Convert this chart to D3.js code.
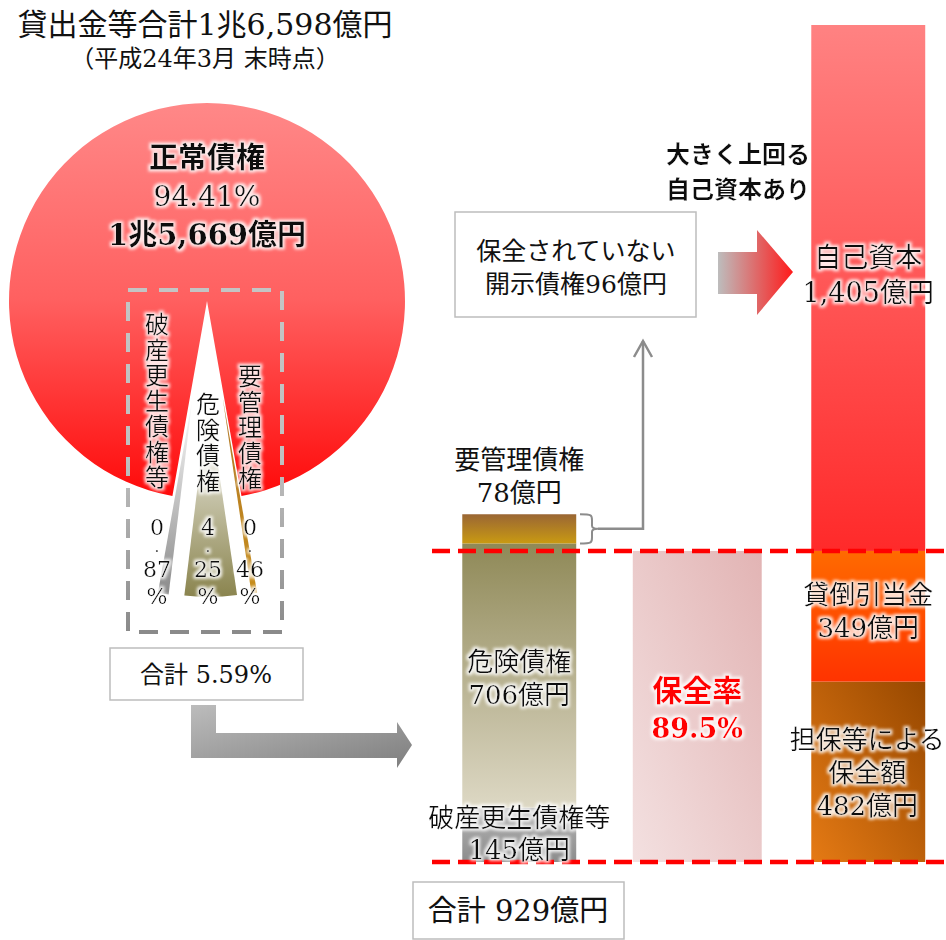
<!DOCTYPE html>
<html><head><meta charset="utf-8">
<script src="https://cdn.jsdelivr.net/npm/d3@7"></script>
<style>
body{margin:0;background:#fff;}
svg{display:block;font-family:"DejaVu Serif","Noto Sans CJK JP",serif;}
</style></head><body>
<svg width="946" height="940"></svg>
<script>
// 円グラフ (構成比 %)
const pieNames = ["正常債権", "要管理債権", "危険債権", "破産更生債権等"];
const piePct = [94.41, 0.46, 4.25, 0.87];
const normalAmount = "1兆5,669億円";
const smallTotalPct = "5.59%";

// 開示債権 (億円) 下から
const discNames = ["破産更生債権等", "危険債権", "要管理債権"];
const discValues = [145, 706, 78];

// 保全 (億円) 下から
const coverLabels = [["担保等による", "保全額"], ["貸倒引当金"], ["自己資本"]];
const coverValues = [482, 349, 1405];
const coverRate = 89.5;
const unprotected = 96;

const titleText = ["貸出金等合計1兆6,598億円", "（平成24年3月 末時点）"];

const fmt = d3.format(",");
const svg = d3.select("svg");
const defs = svg.append("defs");

// グラデーション
function grad(id, stops, x1, y1, x2, y2) {
  const g = defs.append("linearGradient").attr("id", id)
    .attr("x1", x1).attr("y1", y1).attr("x2", x2).attr("y2", y2);
  stops.forEach((c, i) => g.append("stop").attr("offset", i / (stops.length - 1)).attr("stop-color", c));
}
grad("gPie", ["#ff8888", "#ff6060", "#ff0a0a"], 0, 0, 0, 1);
grad("gYou", ["#b0782a", "#c78d1a"], 0, 0, 0, 1);
grad("gKiken", ["#ffffff", "#8a844e"], 0, 0, 0, 1);
grad("gHasan", ["#ffffff", "#8a8a8a"], 0, 0, 0, 1);
grad("gBarYou", ["#9a6634", "#c99a12"], 0, 0, 0, 1);
grad("gBarKiken", ["#8f8957", "#b7b190", "#ddd8c4"], 0, 0, 0, 1);
grad("gBarHasan", ["#b4b4b4", "#8c8c8c"], 0, 0, 0, 1);
grad("gRate", ["#f3e0e0", "#e2b4b4"], 0, 1, 1, 0);
grad("gOwn", ["#ff8282", "#ff2a2a"], 0, 0, 0, 1);
grad("gAllow", ["#ff6a00", "#ff3300"], 0, 0, 0, 1);
grad("gColl", ["#e57a14", "#974800"], 0, 1, 1, 0);
grad("gDash", ["#c4c4c4", "#c0c0c0", "#8a8a8a"], 0, 0, 0, 1);
grad("gGrayArrow", ["#bcbcbc", "#7e7e7e"], 0, 0, 1, 1);
grad("gRedArrow", ["#bdbdbd", "#ff1a1a"], 0, 0, 1, 0);

const f = defs.append("filter").attr("id", "glow")
  .attr("x", "-20%").attr("y", "-30%").attr("width", "140%").attr("height", "160%");
f.append("feMorphology").attr("in", "SourceAlpha").attr("operator", "dilate").attr("radius", 1.5).attr("result", "d");
f.append("feGaussianBlur").attr("in", "d").attr("stdDeviation", 1.8).attr("result", "b");
f.append("feFlood").attr("flood-color", "#fff").attr("flood-opacity", 0.85);
f.append("feComposite").attr("in2", "b").attr("operator", "in").attr("result", "g");
const fm = f.append("feMerge");
fm.append("feMergeNode").attr("in", "g");
fm.append("feMergeNode").attr("in", "SourceGraphic");

// テキスト
function label(g, x, y, lines, size, opt = {}) {
  const t = g.append("text").attr("x", x).attr("y", y)
    .attr("text-anchor", "middle").attr("dominant-baseline", "central")
    .attr("font-size", size).attr("fill", opt.fill || "#111")
    .attr("font-weight", opt.bold ? "bold" : "normal");
  if (opt.family) t.attr("font-family", opt.family);
  const lh = opt.lh || size * 1.2;
  lines.forEach((l, i) => {
    const s = t.append("tspan").attr("x", x).attr("y", Array.isArray(lh) ? lh[i] : y + i * lh).text(l);
    if (opt.sizes && opt.sizes[i]) s.attr("font-size", opt.sizes[i]).attr("font-weight", "bold");
  });
  return t;
}

// タイトル
label(svg, 205, 24, [titleText[0]], 30);
label(svg, 205, 59, [titleText[1]], 24);

// 円グラフ
const cx = 207, cy = 301, R = 198, explode = 98;
const pie = d3.pie().sort(null).value(d => d)
  .startAngle(-Math.PI * piePct[0] / 100)
  .endAngle(-Math.PI * piePct[0] / 100 + 2 * Math.PI);
const arcs = pie(piePct);
const arc = d3.arc().innerRadius(0).outerRadius(R);
const sliceFill = ["url(#gPie)", "url(#gYou)", "url(#gKiken)", "url(#gHasan)"];
const pg = svg.append("g").attr("transform", `translate(${cx},${cy})`);
pg.selectAll("path").data(arcs).enter().append("path")
  .attr("d", arc)
  .attr("fill", (d, i) => sliceFill[i])
  .attr("transform", (d, i) => {
    if (i === 0) return null;
    const a = (d.startAngle + d.endAngle) / 2;
    return `translate(${Math.sin(a) * explode},${-Math.cos(a) * explode})`;
  });

// 正常債権ラベル
const pl = svg.append("g").attr("filter", "url(#glow)");
label(pl, cx, 158, [pieNames[0]], 29, { bold: true });
label(pl, cx, 196, [piePct[0].toFixed(2) + "%"], 28);
label(pl, cx, 235, [normalAmount], 29, { bold: true });

// 破線枠
svg.append("rect").attr("x", cx - 79).attr("y", cy - 11).attr("width", 154).attr("height", 342)
  .attr("fill", "none").attr("stroke", "url(#gDash)").attr("stroke-width", 4)
  .attr("stroke-dasharray", "19,12");

// 小さな扇形のラベル (縦書き)
const colX = { "破産更生債権等": cx - 50, "危険債権": cx + 1, "要管理債権": cx + 43 };
const colTop = { "破産更生債権等": 325, "危険債権": 405, "要管理債権": 377 };
const vg = svg.append("g").attr("filter", "url(#glow)");
pieNames.slice(1).forEach((name, k) => {
  const i = k + 1;
  const chars = name.split("");
  label(vg, colX[name], colTop[name], chars, 24, { lh: chars.map((c, j) => colTop[name] + j * 25.5) });
  const p = piePct[i].toFixed(2).split(".");
  label(vg, colX[name], 527, [p[0], ".", p[1], "%"], 22,
    { lh: [527, 548, 569, 596], sizes: [0, 11, 0, 0] });
});

// 合計 5.59%
svg.append("rect").attr("x", 110).attr("y", 648).attr("width", 193).attr("height", 52)
  .attr("fill", "#fff").attr("stroke", "#bdbdbd").attr("stroke-width", 1.5);
label(svg, 206, 675, ["合計 " + smallTotalPct], 24);

// 灰色の矢印
svg.append("path")
  .attr("d", "M191,705 L216,705 L216,733 L397,733 L397,722 L412,745 L397,768 L397,758 L191,758 Z")
  .attr("fill", "url(#gGrayArrow)");

// 棒グラフ
const y = d3.scaleLinear().domain([0, d3.sum(coverValues)]).range([862, 25]);
const x = d3.scaleBand().domain(["disc", "rate", "cover"]).range([432, 955.5])
  .paddingInner(0.347).paddingOuter(0.1735);

function stack(vals) {
  let acc = 0;
  return vals.map(v => { const s = acc; acc += v; return { v, s, e: acc }; });
}

const discStack = stack(discValues);
const discFill = ["url(#gBarHasan)", "url(#gBarKiken)", "url(#gBarYou)"];
svg.selectAll(".disc").data(discStack).enter().append("rect").attr("class", "disc")
  .attr("x", x("disc")).attr("width", x.bandwidth())
  .attr("y", d => y(d.e)).attr("height", d => y(d.s) - y(d.e))
  .attr("fill", (d, i) => discFill[i]);

const coverStack = stack(coverValues);
const coverFill = ["url(#gColl)", "url(#gAllow)", "url(#gOwn)"];
svg.selectAll(".cover").data(coverStack).enter().append("rect").attr("class", "cover")
  .attr("x", x("cover")).attr("width", x.bandwidth())
  .attr("y", d => y(d.e)).attr("height", d => y(d.s) - y(d.e))
  .attr("fill", (d, i) => coverFill[i]);

const protectedSum = coverValues[0] + coverValues[1];
svg.append("rect").attr("x", x("rate") - 4).attr("width", x.bandwidth() + 15)
  .attr("y", y(protectedSum)).attr("height", y(0) - y(protectedSum))
  .attr("fill", "url(#gRate)");

// 赤い破線
[protectedSum, 0].forEach(v => {
  svg.append("line").attr("x1", 432).attr("x2", 946).attr("y1", y(v)).attr("y2", y(v))
    .attr("stroke", "#ff0000").attr("stroke-width", 4.5).attr("stroke-dasharray", "18,8");
});

// 開示債権ラベル
const dcx = x("disc") + x.bandwidth() / 2;
const discTotal = d3.sum(discValues);
label(svg, dcx, 460, [discNames[2], discValues[2] + "億円"], 26, { lh: 33 });
const dl = svg.append("g").attr("filter", "url(#glow)");
label(dl, dcx, 662, [discNames[1], discValues[1] + "億円"], 26, { lh: 33 });
label(dl, dcx, 818, [discNames[0], discValues[0] + "億円"], 26, { lh: 32 });

// 合計 929億円
svg.append("rect").attr("x", 413).attr("y", 882).attr("width", 211).attr("height", 57)
  .attr("fill", "#fff").attr("stroke", "#bdbdbd").attr("stroke-width", 1.5);
label(svg, 518, 911, ["合計 " + discTotal + "億円"], 29);

// 保全率
const rcx = x("rate") + x.bandwidth() / 2 + 3.5;
const rl = svg.append("g").attr("filter", "url(#glow)");
label(rl, rcx, 690, ["保全率"], 30, { bold: true, fill: "#ff0000" });
label(rl, rcx, 728, [coverRate + "%"], 27, { bold: true, fill: "#ff0000" });

// 保全ラベル
const ccx = x("cover") + x.bandwidth() / 2;
const cl = svg.append("g").attr("filter", "url(#glow)");
label(cl, ccx - 1, 740, [...coverLabels[0], fmt(coverValues[0]) + "億円"], 26, { lh: 33 });
label(cl, ccx, 595, [coverLabels[1][0], fmt(coverValues[1]) + "億円"], 26, { lh: 33 });
label(cl, ccx, 257, [coverLabels[2][0], fmt(coverValues[2]) + "億円"], 27, { lh: 35 });

// 括弧と矢印
const bt = y(discTotal), bb = y(discTotal - discValues[2]), bm = (bt + bb) / 2;
svg.append("path")
  .attr("d", `M580,${bt} C592,${bt} 592,${bt + 1} 592,${bt + 6} L592,${bm - 3} Q592,${bm} 598,${bm} Q592,${bm} 592,${bm + 3} L592,${bb - 6} C592,${bb - 1} 592,${bb} 580,${bb}`)
  .attr("fill", "none").attr("stroke", "#8c8c8c").attr("stroke-width", 2);
svg.append("path").attr("d", `M598,${bm} L643,${bm} L643,341`)
  .attr("fill", "none").attr("stroke", "#8c8c8c").attr("stroke-width", 2.5);
svg.append("path").attr("d", "M634,357 L643,341 L652,357")
  .attr("fill", "none").attr("stroke", "#8c8c8c").attr("stroke-width", 2.5);

// 保全されていない開示債権
svg.append("rect").attr("x", 455).attr("y", 212).attr("width", 241).attr("height", 105)
  .attr("fill", "#fff").attr("stroke", "#bdbdbd").attr("stroke-width", 1.5);
label(svg, 576, 251, ["保全されていない", "開示債権" + unprotected + "億円"], 25, { lh: 33 });

// 赤い矢印
svg.append("path")
  .attr("d", "M718,252 L757,252 L757,230 L793,272 L757,315 L757,294 L718,294 Z")
  .attr("fill", "url(#gRedArrow)");

// 大きく上回る自己資本あり
label(svg.append("g").attr("filter", "url(#glow)"), 738, 152, ["大きく上回る", "自己資本あり"], 24,
  { bold: true, lh: 35, family: "'Noto Sans CJK JP', sans-serif" });
</script>
</body></html>
